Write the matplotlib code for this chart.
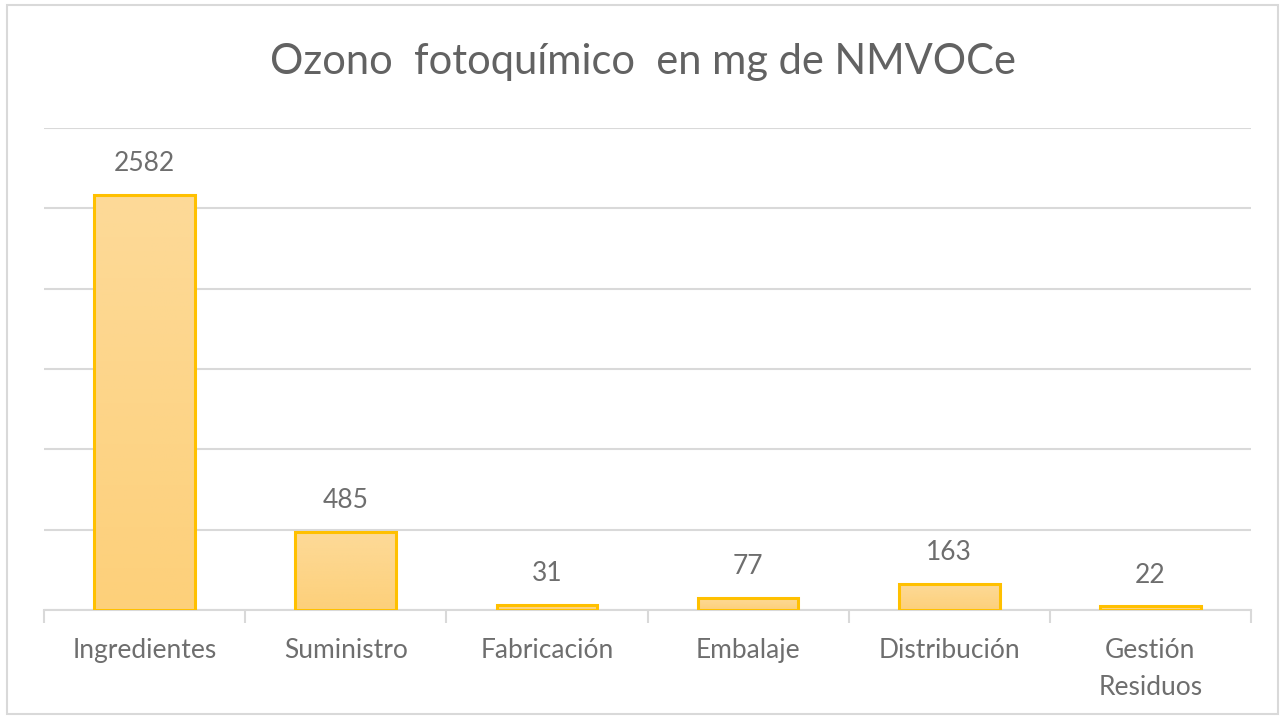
import numpy as np
import matplotlib.pyplot as plt
from matplotlib.patches import Rectangle
from matplotlib.colors import LinearSegmentedColormap

categories = ["Ingredientes", "Suministro", "Fabricación", "Embalaje", "Distribución", "Gestión\nResiduos"]
values = [2582, 485, 31, 77, 163, 22]
yticks = [0, 500, 1000, 1500, 2000, 2500, 3000]

plt.rcParams['font.family'] = ['Lato', 'DejaVu Sans']
text_color = '#6E6E6E'
grid_color = '#D9D9D9'

fig = plt.figure(figsize=(12.85, 7.19), dpi=100)
ax = fig.add_axes([44 / 1285, 1 - 610 / 719, (1251 - 44) / 1285, (610 - 128) / 719])

x = np.arange(len(categories))
bars = ax.bar(x, values, width=0.5, color='none', edgecolor='#FFC000', linewidth=2.2, zorder=3)

# vertical gradient fill clipped to each bar
grad = np.linspace(0, 1, 256).reshape(-1, 1)
cmap = LinearSegmentedColormap.from_list('g', ['#FDD07A', '#FDDA98'])
for b in bars:
    im = ax.imshow(grad, cmap=cmap, aspect='auto', origin='lower',
                   extent=[b.get_x(), b.get_x() + b.get_width(), 0, b.get_height()], zorder=2)
    im.set_clip_path(b)

for xi, v in zip(x, values):
    ax.annotate(str(v), (xi, v), xytext=(0, 22.5), textcoords='offset points',
                ha='center', va='center', fontsize=19, color=text_color)

ax.set_xlim(-0.5, len(categories) - 0.5)
ax.set_ylim(0, 3000)
ax.set_yticks(yticks)
ax.yaxis.grid(True, color=grid_color, linewidth=1.5, zorder=0)
ax.tick_params(axis='y', left=False, labelleft=False)

ax.set_xticks(x)
ax.set_xticklabels(categories, fontsize=19, color=text_color, linespacing=1.6)
ax.tick_params(axis='x', length=0, pad=20)
ax.set_xticks(np.arange(len(categories) + 1) - 0.5, minor=True)
ax.tick_params(axis='x', which='minor', length=9, width=1.5, color=grid_color)

for s in ['top', 'left', 'right']:
    ax.spines[s].set_visible(False)
ax.spines['bottom'].set_color(grid_color)
ax.spines['bottom'].set_linewidth(1.5)

fig.text(0.5, 1 - 62 / 719, "Ozono  fotoquímico  en mg de NMVOCe", ha='center', va='center',
         fontsize=30, color='#626262')

fig.patches.append(Rectangle((7 / 1285, 5 / 719), 1271 / 1285, 709 / 719, transform=fig.transFigure,
                             fill=False, edgecolor=grid_color, linewidth=1.5))

fig.savefig("out.png", dpi=100)
